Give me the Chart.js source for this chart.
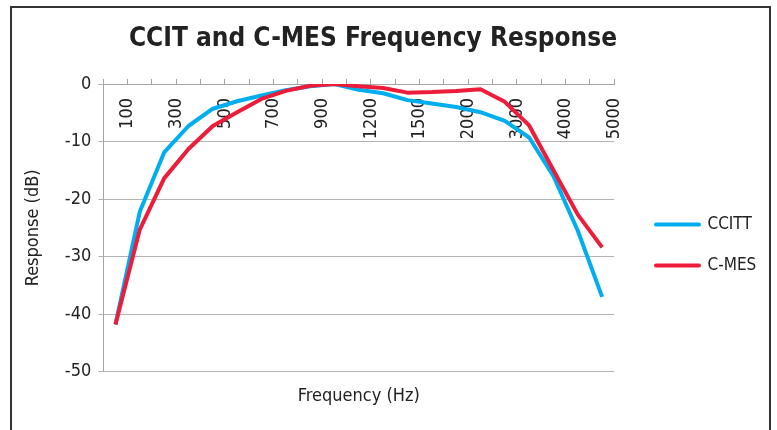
<!DOCTYPE html>
<html>
<head>
<meta charset="utf-8">
<script src="https://cdn.jsdelivr.net/npm/chart.js@4"></script>
<style>
  body { margin: 0; background: #fff; }
  #wrap { position: relative; width: 777px; height: 430px; overflow: hidden; }
  #frame { position: absolute; left: 10px; top: 6px; width: 757px; height: 440px; border: 2px solid #333; border-bottom: none; }
  canvas { position: absolute; left: 0; top: 0; }
</style>
</head>
<body>
<div id="wrap">
  <div id="frame"></div>
  <canvas id="chart" width="777" height="430"></canvas>
</div>
<script>
// frequency categories (Hz), only every other one is labelled on the axis
const categories = ['100', '200', '300', '400', '500', '600', '700', '800', '900', '1000',
  '1200', '1300', '1500', '1800', '2000', '2500', '3000', '3500', '4000', '4500', '5000'];
const tickLabels = ['100', '300', '500', '700', '900', '1200', '1500', '2000', '3000', '4000', '5000'];

// response in dB
const ccitt = [-41.8, -22.2, -11.9, -7.3, -4.3, -3.0, -2.0, -1.1, -0.4, 0,
  -1.0, -1.6, -2.8, -3.4, -4.0, -4.9, -6.4, -9.3, -16, -25.5, -37];
const cmes = [-41.8, -25.3, -16.4, -11.3, -7.3, -4.9, -2.6, -1.2, -0.3, 0,
  -0.4, -0.7, -1.5, -1.4, -1.2, -0.9, -3.1, -7.2, -15, -22.7, -28.4];

const FONT = "'Liberation Sans Narrow', 'DejaVu Sans Condensed', sans-serif";
Chart.defaults.font.family = FONT;
Chart.defaults.color = '#222';

function toPoints(values) {
  return values.map((v, i) => ({ x: i, y: v }));
}

const ctx = document.getElementById('chart').getContext('2d');
new Chart(ctx, {
  type: 'line',
  data: {
    datasets: [
      {
        label: 'CCITT',
        data: toPoints(ccitt),
        borderColor: '#00AEEF',
        backgroundColor: '#00AEEF',
        borderWidth: 4,
        pointRadius: 0,
        borderJoinStyle: 'round',
        order: 1
      },
      {
        label: 'C-MES',
        data: toPoints(cmes),
        borderColor: '#EC1C3A',
        backgroundColor: '#EC1C3A',
        borderWidth: 4,
        pointRadius: 0,
        borderJoinStyle: 'round',
        order: 0
      }
    ]
  },
  options: {
    responsive: false,
    animation: false,
    layout: { padding: { left: -15.5, right: 15.5, top: 0, bottom: 0 } },
    plugins: {
      title: {
        display: true,
        text: 'CCIT and C-MES Frequency Response',
        font: { size: 26, weight: 'bold' },
        color: '#222',
        padding: { top: 23.4, bottom: 29.4 }
      },
      legend: {
        position: 'right',
        title: { display: true, text: '', font: { size: 10 }, padding: { top: 48, bottom: 0 } },
        labels: {
          boxWidth: 43,
          boxHeight: 0,
          padding: 24,
          font: { size: 17 },
          color: '#222',
          sort: (a, b) => a.datasetIndex - b.datasetIndex
        }
      },
      tooltip: { enabled: false }
    },
    scales: {
      x: {
        type: 'linear',
        position: { y: 0 },
        min: -0.5,
        max: 20.5,
        afterBuildTicks: (scale) => {
          scale.ticks = categories.concat(['']).map((c, k) => ({ value: k - 0.5 }));
        },
        ticks: {
          autoSkip: false,
          minRotation: 90,
          maxRotation: 90,
          padding: 20,
          font: { size: 18 },
          color: '#222',
          callback: (value, index) => (index % 2 === 1 ? tickLabels[(index - 1) / 2] : '')
        },
        grid: { drawOnChartArea: false, tickLength: -6, color: '#A6A6A6' },
        border: { color: '#A6A6A6', width: 1 }
      },
      xTitle: {
        type: 'linear',
        position: 'bottom',
        ticks: { display: false },
        grid: { display: false },
        border: { display: false },
        title: {
          display: true,
          text: 'Frequency (Hz)',
          font: { size: 18 },
          color: '#222',
          padding: { top: 0, bottom: 23 }
        },
        afterFit: (scale) => { scale.height = 58.3; }
      },
      y: {
        min: -50,
        max: 0,
        ticks: { stepSize: 10, padding: 7, font: { size: 18 }, color: '#222' },
        grid: { color: '#B3B3B3', tickLength: 5 },
        border: { color: '#A6A6A6' },
        title: {
          display: true,
          text: 'Response (dB)',
          font: { size: 18 },
          color: '#222',
          padding: { top: 37.7, bottom: 0 }
        },
        afterFit: (scale) => { scale.width = 118.8; }
      },
      yGap: {
        type: 'linear',
        position: 'right',
        ticks: { display: false },
        grid: { display: false },
        border: { display: false },
        afterFit: (scale) => { scale.width = 17.7; }
      }
    }
  }
});
</script>
</body>
</html>
